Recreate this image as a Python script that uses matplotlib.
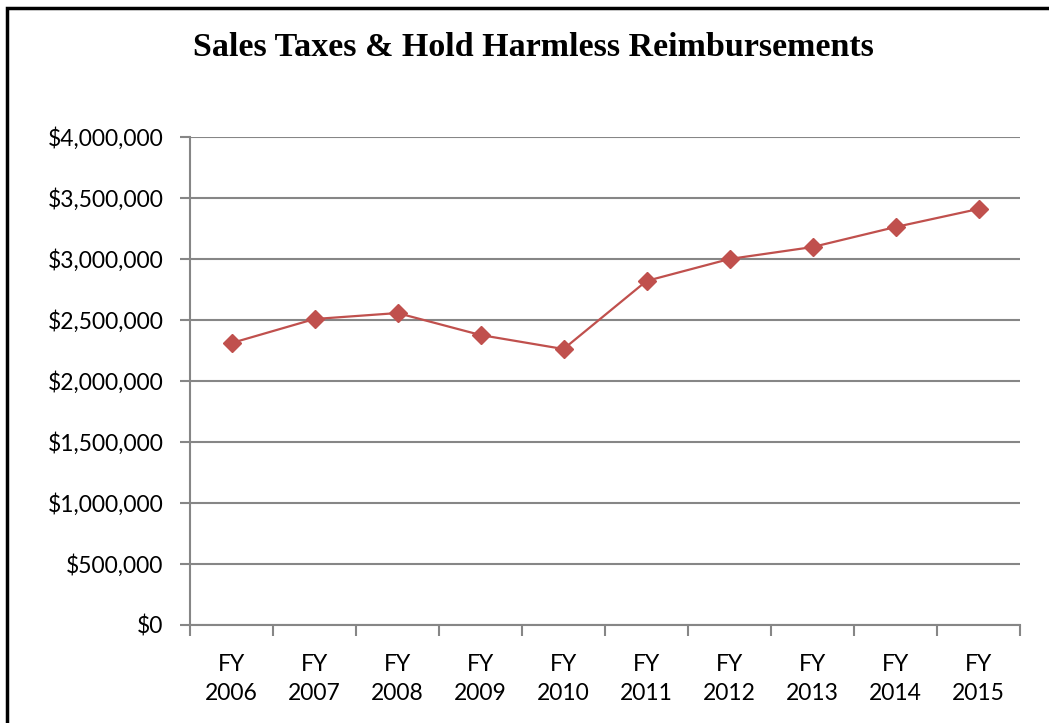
import matplotlib
matplotlib.use("Agg")
import matplotlib.pyplot as plt
from matplotlib.patches import Rectangle
from matplotlib.ticker import FuncFormatter, MultipleLocator, FixedLocator

categories = ["FY\n2006", "FY\n2007", "FY\n2008", "FY\n2009", "FY\n2010",
              "FY\n2011", "FY\n2012", "FY\n2013", "FY\n2014", "FY\n2015"]
values = [2311000, 2508000, 2557000, 2377000, 2262000,
          2820000, 3000000, 3098000, 3262000, 3410000]
title = "Sales Taxes & Hold Harmless Reimbursements"

W, H = 1049, 723
fig = plt.figure(figsize=(W / 100, H / 100), dpi=100)
ax = fig.add_axes([190 / W, 1 - 625 / H, (1020 - 190) / W, (625 - 137) / H])

x = list(range(len(values)))
line_color = "#C0504D"
ax.plot(x, values, color=line_color, lw=1.6, marker="D", ms=9.5,
        markerfacecolor=line_color, markeredgecolor=line_color, zorder=3)

ax.set_xlim(-0.5, len(values) - 0.5)
ax.set_ylim(0, 4000000)
ax.yaxis.set_major_locator(MultipleLocator(500000))
ax.yaxis.set_major_formatter(FuncFormatter(lambda v, p: f"${v:,.0f}"))
ax.set_xticks(x)
ax.set_xticklabels(categories)
ax.xaxis.set_minor_locator(FixedLocator([i - 0.5 for i in range(len(values) + 1)]))

grid_c = "#868686"
ax.grid(axis="y", color=grid_c, lw=1.5, zorder=0)
for s in ["top", "right"]:
    ax.spines[s].set_visible(False)
for s in ["left", "bottom"]:
    ax.spines[s].set_color(grid_c)
    ax.spines[s].set_linewidth(1.5)

fs = 16.5
ax.tick_params(axis="y", which="major", length=7, width=1.5, color=grid_c,
               pad=12, labelsize=fs, labelcolor="black")
ax.tick_params(axis="x", which="major", length=0, pad=21, labelsize=fs)
ax.tick_params(axis="x", which="minor", length=8, width=1.5, color=grid_c)
for lab in ax.get_xticklabels() + ax.get_yticklabels():
    lab.set_fontfamily("Lato")
for lab in ax.get_xticklabels():
    lab.set_linespacing(1.45)

fig.text((190 + 877) / 2 / W, 1 - 47 / H, title, ha="center", va="center",
         fontsize=24.5, fontweight="bold", family="Liberation Serif")

fig.patches.append(Rectangle((7 / W, -0.1), 1.2, 1 - 8 / H + 0.1,
                             transform=fig.transFigure, fill=False,
                             edgecolor="black", lw=2.5))

fig.savefig("out.png", dpi=100, facecolor="white")
